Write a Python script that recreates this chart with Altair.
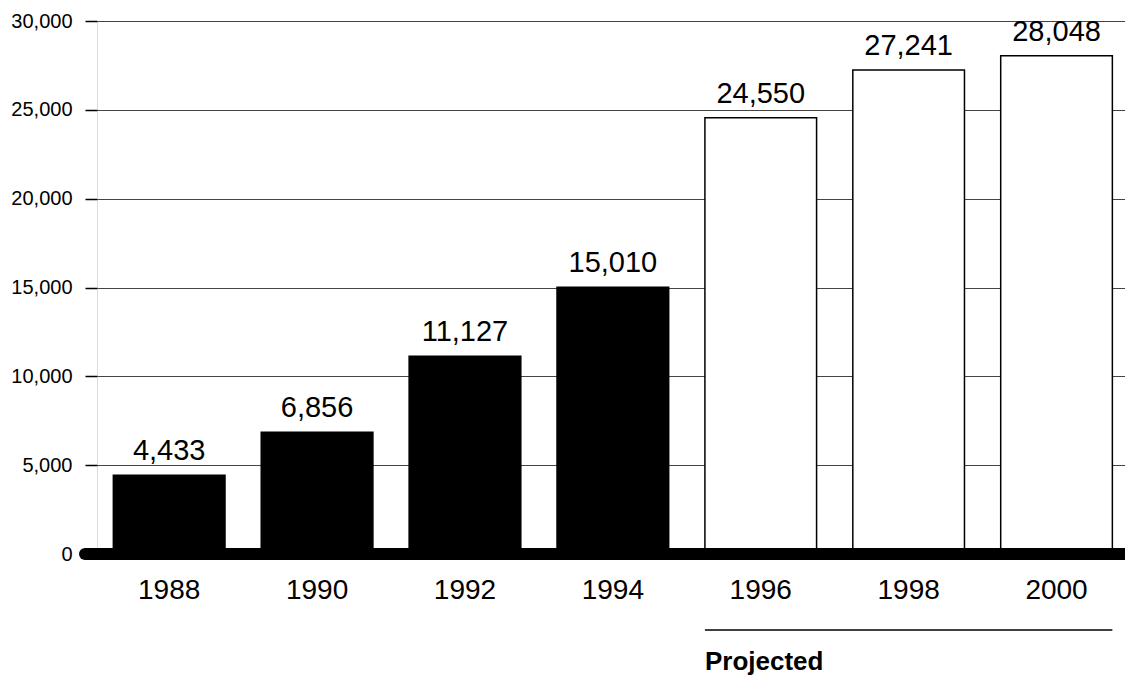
import altair as alt
import pandas as pd

years = ["1988", "1990", "1992", "1994", "1996", "1998", "2000"]
values = [4433, 6856, 11127, 15010, 24550, 27241, 28048]
projected = [False, False, False, False, True, True, True]
y_ticks = [0, 5000, 10000, 15000, 20000, 25000, 30000]
projected_label = "Projected"

df = pd.DataFrame({"year": years, "value": values, "projected": projected})
df["fill"] = ["white" if p else "black" for p in projected]

FONT = "Liberation Sans"
W, H = 1028, 533

xscale = alt.Scale(domain=years, paddingInner=0.245, paddingOuter=0.098, align=0.564)
yscale = alt.Scale(domain=[0, 30000], nice=False)

x_axis = alt.Axis(title=None, domain=False, ticks=False, tickSize=0,
                  labelAngle=0, labelFontSize=28, labelFont=FONT,
                  labelColor="black", labelPadding=44,
                  labelBaseline="alphabetic")
y_axis = alt.Axis(title=None, values=y_ticks, format=",d", domain=False,
                  tickSize=12, tickColor="black", tickWidth=1.5,
                  labelFontSize=20, labelFont=FONT, labelColor="black",
                  labelPadding=13, grid=True, gridColor="#444444",
                  gridWidth=1)

bars = alt.Chart(df).mark_bar(stroke="black", strokeWidth=1.5).encode(
    x=alt.X("year:N", scale=xscale, sort=years, axis=x_axis),
    y=alt.Y("value:Q", scale=yscale, axis=y_axis),
    fill=alt.Fill("fill:N", scale=None),
)

labels = alt.Chart(df).mark_text(font=FONT, fontSize=29, baseline="alphabetic",
                                 dy=-15, color="black").encode(
    x=alt.X("year:N", scale=xscale, sort=years, axis=x_axis),
    y=alt.Y("value:Q", scale=yscale, axis=y_axis),
    text=alt.Text("value:Q", format=",d"),
)

zero_df = pd.DataFrame({"value": [0]})
zero = alt.Chart(zero_df).mark_rule(color="black", strokeWidth=12,
                                    strokeCap="round").encode(
    y=alt.Y("value:Q", scale=yscale, axis=y_axis),
    x=alt.value(-12),
    x2=alt.value(W + 20),
)

proj_df = pd.DataFrame({"year": [years[4]], "end": [years[-1]], "label": [projected_label]})
proj_line = alt.Chart(proj_df).mark_rule(color="black", strokeWidth=1.5).encode(
    x=alt.X("year:N", scale=xscale, sort=years, bandPosition=0, axis=x_axis),
    x2=alt.X2("end:N", bandPosition=1),
    y=alt.value(H + 76),
)
proj_text = alt.Chart(proj_df).mark_text(font=FONT, fontSize=26, fontWeight="bold",
                                         align="left", baseline="alphabetic",
                                         color="black").encode(
    x=alt.X("year:N", scale=xscale, sort=years, bandPosition=0, axis=x_axis),
    y=alt.value(H + 116),
    text="label:N",
)

chart = alt.layer(bars, zero, labels, proj_line, proj_text).properties(
    width=W, height=H,
    autosize=alt.AutoSizeParams(type="none"),
    padding={"left": 89, "top": 13, "right": 0, "bottom": 125},
).configure_view(strokeWidth=0).configure_axis(
    labelFontSize=20
).configure_axisX(labelFontSize=28).configure(background="white")

chart.save("out.html", embed_options={"renderer": "svg", "actions": False})
